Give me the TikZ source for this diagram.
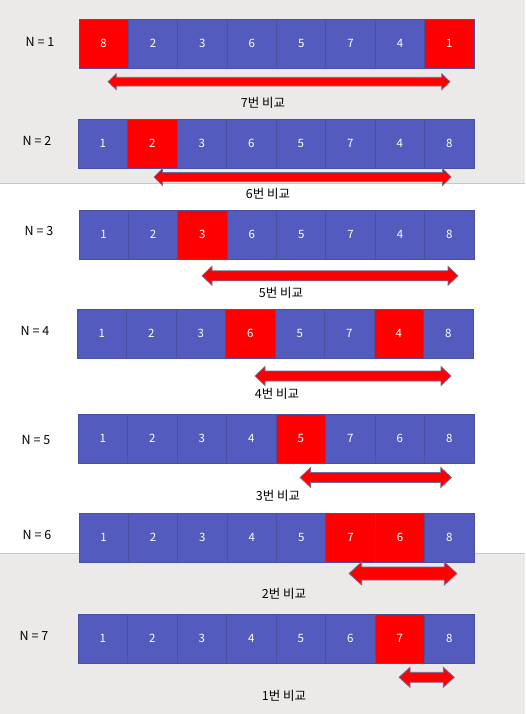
\documentclass[tikz,border=0pt]{standalone}
\usepackage{fontspec}
\setmainfont{Noto Sans CJK KR}
\definecolor{bggray}{HTML}{EBEAE8}
\definecolor{cellblue}{HTML}{535BBF}
\definecolor{cellline}{HTML}{4A4F9E}
\definecolor{arrowline}{HTML}{6E6E9E}
\definecolor{sepline}{HTML}{C8C8C8}
\tikzset{
  cell/.style={draw=cellline, line width=0.8pt, text=white, font=\fontsize{11.5}{11.5}\selectfont, inner sep=0pt, minimum height=49pt},
  nlabel/.style={font=\fontsize{12.5}{12.5}\selectfont, text=black, inner sep=0pt},
  clabel/.style={font=\fontsize{12.5}{12.5}\selectfont, text=black, inner sep=0pt},
  arrowshape/.style={fill=red, draw=arrowline, line width=0.7pt, line join=miter}
}
% #1 prefix, #2 x0, #3 x1, #4 ytop, #5 list value/colour
\newcommand\cellrow[5]{%
  \pgfmathsetmacro\cw{(#3-#2)/8}%
  \foreach \v/\c [count=\i from 0] in {#5} {
    \node[cell, fill=\c, minimum width=\cw pt] (#1c\i) at ({#2+(\i+0.5)*\cw}, {#4+24.5}) {\v};
  }
}
% #1 x left tip, #2 x right tip, #3 y, #4 shaft half, #5 head half, #6 head length
\newcommand\dblarrow[6]{%
  \draw[arrowshape] (#1,#3) -- (#1+#6,#3-#5) -- (#1+#6,#3-#4) -- (#2-#6,#3-#4) -- (#2-#6,#3-#5)
    -- (#2,#3) -- (#2-#6,#3+#5) -- (#2-#6,#3+#4) -- (#1+#6,#3+#4) -- (#1+#6,#3+#5) -- cycle;
}
\begin{document}
\begin{tikzpicture}[x=1pt,y=-1pt]
\useasboundingbox (0,0) rectangle (525,714);
\fill[bggray] (0,0) rectangle (525,714);
\fill[white] (0,183) rectangle (525,553);
\draw[sepline, line width=0.8pt] (0,183) -- (525,183);
\draw[sepline, line width=0.8pt] (0,553) -- (525,553);

% Row 1
\node[nlabel] (n1) at (40,42) {N = 1};
\cellrow{r1}{79}{474}{19}{8/red,2/cellblue,3/cellblue,6/cellblue,5/cellblue,7/cellblue,4/cellblue,1/red}
\dblarrow{108}{450}{81.7}{4.4}{8}{8.3}
\node[clabel] (l1) at (263,103) {7번 비교};

% Row 2
\node[nlabel] (n2) at (37,141) {N = 2};
\cellrow{r2}{78}{474}{119}{1/cellblue,2/red,3/cellblue,6/cellblue,5/cellblue,7/cellblue,4/cellblue,8/cellblue}
\dblarrow{154}{451}{177}{4.5}{8.5}{8.5}
\node[clabel] (l2) at (268,194) {6번 비교};

% Row 3
\node[nlabel] (n3) at (39,231) {N = 3};
\cellrow{r3}{79}{474}{210}{1/cellblue,2/cellblue,3/red,6/cellblue,5/cellblue,7/cellblue,4/cellblue,8/cellblue}
\dblarrow{202}{458}{275.8}{5}{9.5}{10}
\node[clabel] (l3) at (281,293) {5번 비교};

% Row 4
\node[nlabel] (n4) at (35,331) {N = 4};
\cellrow{r4}{77}{473}{309}{1/cellblue,2/cellblue,3/cellblue,6/red,5/cellblue,7/cellblue,4/red,8/cellblue}
\dblarrow{255}{451}{376}{5}{9.5}{10}
\node[clabel] (l4) at (277,394) {4번 비교};

% Row 5
\node[nlabel] (n5) at (36,440) {N = 5};
\cellrow{r5}{78}{474}{414}{1/cellblue,2/cellblue,3/cellblue,4/cellblue,5/red,7/cellblue,6/cellblue,8/cellblue}
\dblarrow{300}{451.5}{477.5}{5}{10}{10.7}
\node[clabel] (l5) at (278,496) {3번 비교};

% Row 6
\node[nlabel] (n6) at (37,535) {N = 6};
\cellrow{r6}{79}{474}{513}{1/cellblue,2/cellblue,3/cellblue,4/cellblue,5/cellblue,7/red,6/red,8/cellblue}
\dblarrow{349}{457}{573.5}{6.5}{11.5}{12.7}
\node[clabel] (l6) at (284,594) {2번 비교};

% Row 7
\node[nlabel] (n7) at (34,636) {N = 7};
\cellrow{r7}{78}{474}{614}{1/cellblue,2/cellblue,3/cellblue,4/cellblue,5/cellblue,6/cellblue,7/red,8/cellblue}
\dblarrow{399}{454.3}{677.3}{5}{10}{11}
\node[clabel] (l7) at (284,696) {1번 비교};
\end{tikzpicture}
\end{document}
